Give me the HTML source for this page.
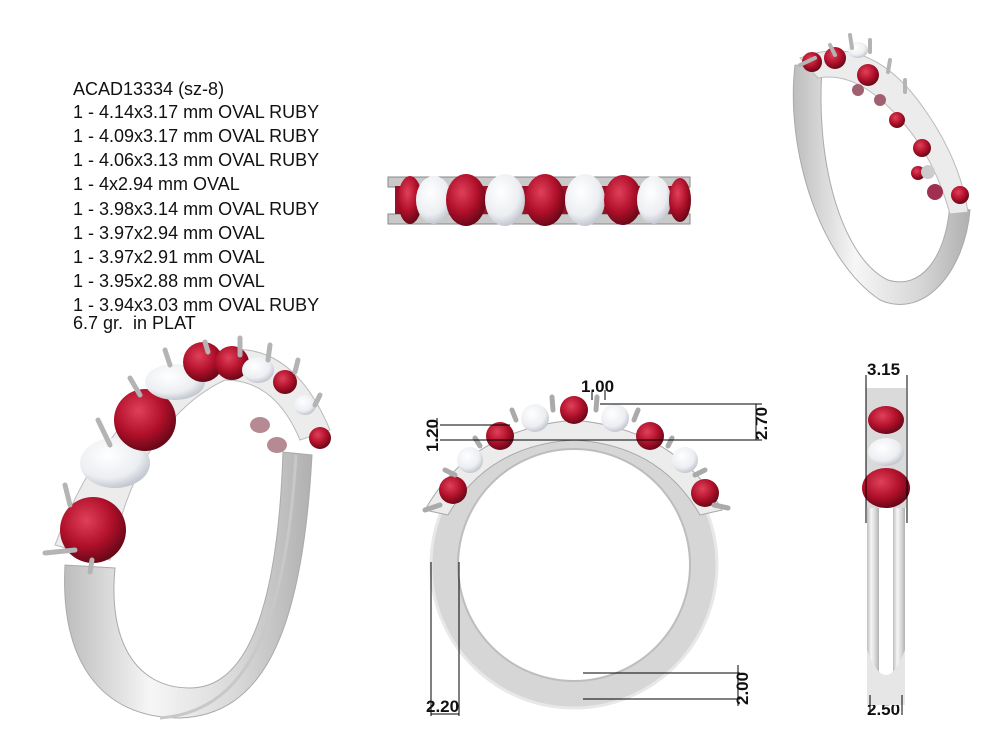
<!DOCTYPE html>
<html><head><style>
html,body{margin:0;padding:0;background:#fff;}
.t{position:absolute;left:73px;font-family:"Liberation Sans",sans-serif;font-size:18px;color:#111;line-height:18px;white-space:nowrap}
svg{position:absolute;left:0;top:0}
</style></head><body>
<svg width="1007" height="749" viewBox="0 0 1007 749">
<defs>
<radialGradient id="rb" cx="40%" cy="35%" r="65%"><stop offset="0" stop-color="#e0405a"/><stop offset=".6" stop-color="#b0102a"/><stop offset="1" stop-color="#6a0818"/></radialGradient>
<radialGradient id="dm" cx="40%" cy="35%" r="65%"><stop offset="0" stop-color="#ffffff"/><stop offset=".7" stop-color="#eceef2"/><stop offset="1" stop-color="#c4c8d0"/></radialGradient>
<linearGradient id="mt" x1="0" x2="1"><stop offset="0" stop-color="#bdbdbd"/><stop offset=".35" stop-color="#f6f6f6"/><stop offset=".7" stop-color="#d8d8d8"/><stop offset="1" stop-color="#b0b0b0"/></linearGradient>
</defs>
<!-- top view band -->
<rect x="388" y="177" width="302" height="10" fill="#c9c9c9" stroke="#888" stroke-width="1"/>
<rect x="388" y="214" width="302" height="10" fill="#c9c9c9" stroke="#888" stroke-width="1"/>
<rect x="395" y="186" width="290" height="28" fill="#9a1028"/>
<ellipse cx="410" cy="200" rx="12" ry="24" fill="url(#rb)"/>
<ellipse cx="434" cy="200" rx="18" ry="24" fill="url(#dm)"/>
<ellipse cx="466" cy="200" rx="20" ry="26" fill="url(#rb)"/>
<ellipse cx="505" cy="200" rx="20" ry="26" fill="url(#dm)"/>
<ellipse cx="545" cy="200" rx="20" ry="26" fill="url(#rb)"/>
<ellipse cx="585" cy="200" rx="20" ry="26" fill="url(#dm)"/>
<ellipse cx="623" cy="200" rx="19" ry="25" fill="url(#rb)"/>
<ellipse cx="654" cy="200" rx="17" ry="24" fill="url(#dm)"/>
<ellipse cx="680" cy="200" rx="11" ry="22" fill="url(#rb)"/>

<!-- front view ring -->
<circle cx="574" cy="565" r="130" fill="none" stroke="#d6d6d6" stroke-width="28"/>
<circle cx="574" cy="565" r="143" fill="none" stroke="#e8e8e8" stroke-width="3"/>
<circle cx="574" cy="565" r="116" fill="none" stroke="#bdbdbd" stroke-width="2"/>
<path d="M425 510 Q470 430 574 420 Q678 430 722 510 L700 515 Q660 445 574 440 Q488 445 448 515Z" fill="#ececec" stroke="#aaa"/>
<circle cx="453" cy="490" r="14" fill="url(#rb)"/>
<circle cx="470" cy="460" r="13" fill="url(#dm)"/>
<circle cx="500" cy="436" r="14" fill="url(#rb)"/>
<circle cx="535" cy="418" r="14" fill="url(#dm)"/>
<circle cx="574" cy="410" r="14" fill="url(#rb)"/>
<circle cx="615" cy="418" r="14" fill="url(#dm)"/>
<circle cx="650" cy="436" r="14" fill="url(#rb)"/>
<circle cx="685" cy="460" r="13" fill="url(#dm)"/>
<circle cx="705" cy="493" r="14" fill="url(#rb)"/>
<g stroke="#aaa" stroke-width="5" stroke-linecap="round" fill="none">
<path d="M425 510 L440 505"/><path d="M445 470 L455 475"/><path d="M475 438 L480 446"/><path d="M512 410 L516 420"/><path d="M552 397 L553 410"/><path d="M597 397 L596 410"/><path d="M638 410 L634 420"/><path d="M672 438 L668 446"/><path d="M705 470 L695 475"/><path d="M728 508 L714 505"/>
</g>
<g stroke="#000" stroke-width="1" fill="none">
<line x1="600" y1="404" x2="762" y2="404"/><line x1="440" y1="440" x2="762" y2="440"/>
<line x1="756" y1="404" x2="756" y2="440"/>
<line x1="440" y1="425" x2="510" y2="425"/><line x1="437" y1="418" x2="437" y2="440"/>
<line x1="431" y1="562" x2="431" y2="716"/><line x1="459" y1="562" x2="459" y2="716"/>
<line x1="431" y1="714" x2="459" y2="714"/>
<line x1="583" y1="673" x2="740" y2="673"/><line x1="583" y1="699" x2="740" y2="699"/>
<line x1="738" y1="665" x2="738" y2="706"/>
<line x1="592" y1="390" x2="592" y2="400"/><line x1="605" y1="390" x2="605" y2="400"/>
</g>
<g font-family="Liberation Sans,sans-serif" font-weight="bold" font-size="17" fill="#111">
<text x="581" y="392">1.00</text>
<text x="426" y="712">2.20</text>
<text transform="translate(767,440) rotate(-90)">2.70</text>
<text transform="translate(438,452) rotate(-90)">1.20</text>
<text transform="translate(748,705) rotate(-90)">2.00</text>
<text x="867" y="375">3.15</text>
<text x="867" y="715">2.50</text>
</g>

<!-- side view -->
<rect x="867" y="500" width="12" height="200" rx="6" fill="url(#mt)"/>
<rect x="893" y="500" width="12" height="200" rx="6" fill="url(#mt)"/>
<path d="M867 650 Q886 700 905 650 L905 705 L867 705Z" fill="#e6e6e6"/>
<rect x="866" y="388" width="40" height="120" fill="#dadada"/>
<ellipse cx="886" cy="420" rx="18" ry="14" fill="url(#rb)"/>
<ellipse cx="886" cy="452" rx="18" ry="14" fill="url(#dm)"/>
<ellipse cx="886" cy="488" rx="24" ry="20" fill="url(#rb)"/>
<g stroke="#000" stroke-width="1"><line x1="866" y1="375" x2="866" y2="523"/><line x1="907" y1="375" x2="907" y2="523"/><line x1="870" y1="695" x2="870" y2="715"/><line x1="902" y1="695" x2="902" y2="715"/></g>

<!-- left perspective ring -->
<path d="M65 565 C60 660 100 718 180 718 C260 715 302 640 312 455 L283 452 C278 600 250 688 190 688 C135 688 108 640 115 568 Z" fill="url(#mt)" stroke="#aaa"/>
<path d="M160 718 C240 712 285 640 296 455" fill="none" stroke="#c8c8c8" stroke-width="3"/>
<path d="M55 545 Q110 400 215 352 Q290 335 330 430 L300 440 Q275 380 225 380 Q140 420 110 560Z" fill="#ececec" stroke="#bbb"/>
<ellipse cx="260" cy="425" rx="10" ry="8" fill="#b58a92"/>
<ellipse cx="277" cy="445" rx="10" ry="8" fill="#b58a92"/>
<circle cx="93" cy="530" r="33" fill="url(#rb)"/>
<ellipse cx="115" cy="463" rx="35" ry="25" fill="url(#dm)"/>
<circle cx="145" cy="420" r="31" fill="url(#rb)"/>
<ellipse cx="175" cy="382" rx="30" ry="18" fill="url(#dm)"/>
<circle cx="203" cy="362" r="20" fill="url(#rb)"/>
<circle cx="232" cy="363" r="17" fill="url(#rb)"/>
<ellipse cx="258" cy="370" rx="16" ry="13" fill="url(#dm)"/>
<circle cx="285" cy="382" r="12" fill="url(#rb)"/>
<ellipse cx="305" cy="405" rx="11" ry="10" fill="url(#dm)"/>
<circle cx="320" cy="438" r="11" fill="url(#rb)"/>
<g stroke="#b4b4b4" stroke-width="5" stroke-linecap="round" fill="none">
<path d="M45 553 L75 550"/><path d="M90 572 L92 560"/><path d="M65 485 L70 505"/><path d="M98 420 L110 445"/><path d="M130 378 L140 395"/><path d="M165 350 L170 365"/><path d="M205 342 L208 352"/><path d="M240 338 L240 355"/><path d="M270 345 L268 360"/><path d="M298 360 L295 372"/><path d="M320 395 L315 405"/>
</g>

<!-- top right perspective ring -->
<path d="M795 65 C785 150 820 260 880 300 C925 320 965 270 970 210 L950 205 C945 260 920 290 888 280 C845 260 815 170 822 68 Z" fill="url(#mt)" stroke="#aaa"/>
<path d="M800 58 Q870 30 925 110 Q960 160 968 212 L950 214 Q935 160 905 125 Q860 70 818 78Z" fill="#ececec" stroke="#bbb"/>
<circle cx="812" cy="62" r="10" fill="url(#rb)"/>
<circle cx="835" cy="58" r="11" fill="url(#rb)"/>
<ellipse cx="858" cy="50" rx="10" ry="8" fill="url(#dm)"/>
<circle cx="868" cy="75" r="11" fill="url(#rb)"/>
<circle cx="858" cy="90" r="6" fill="#a06070"/>
<circle cx="880" cy="100" r="6" fill="#a06070"/>
<circle cx="897" cy="120" r="8" fill="url(#rb)"/>
<circle cx="922" cy="148" r="9" fill="url(#rb)"/>
<circle cx="918" cy="173" r="7" fill="url(#rb)"/>
<ellipse cx="928" cy="172" rx="7" ry="7" fill="#ccc"/>
<circle cx="935" cy="192" r="8" fill="#a03050"/>
<circle cx="960" cy="195" r="9" fill="url(#rb)"/>
<g stroke="#b4b4b4" stroke-width="4" stroke-linecap="round" fill="none">
<path d="M800 65 L815 58"/><path d="M830 45 L835 55"/><path d="M850 35 L852 48"/><path d="M870 40 L870 52"/><path d="M890 60 L888 72"/><path d="M905 80 L905 92"/>
</g>
</svg>
<div class="t" style="top:80px">ACAD13334 (sz-8)</div>
<div class="t" style="top:103px">1 - 4.14x3.17 mm OVAL RUBY</div>
<div class="t" style="top:127px">1 - 4.09x3.17 mm OVAL RUBY</div>
<div class="t" style="top:151px">1 - 4.06x3.13 mm OVAL RUBY</div>
<div class="t" style="top:175px">1 - 4x2.94 mm OVAL</div>
<div class="t" style="top:200px">1 - 3.98x3.14 mm OVAL RUBY</div>
<div class="t" style="top:224px">1 - 3.97x2.94 mm OVAL</div>
<div class="t" style="top:248px">1 - 3.97x2.91 mm OVAL</div>
<div class="t" style="top:272px">1 - 3.95x2.88 mm OVAL</div>
<div class="t" style="top:296px">1 - 3.94x3.03 mm OVAL RUBY</div>
<div class="t" style="top:314px">6.7 gr.&nbsp; in PLAT</div>
</body></html>
